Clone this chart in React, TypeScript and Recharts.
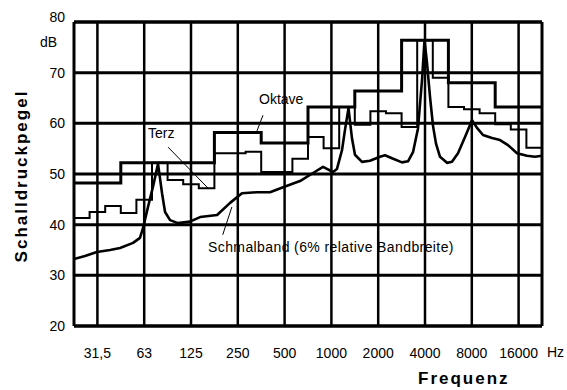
import React from "react";
import { LineChart, Line, XAxis, YAxis, CartesianGrid, ReferenceLine } from "recharts";

const FONT = '"Liberation Sans", Arial, Helvetica, sans-serif';

// log frequency axis, 10 octaves from 22 Hz to 22.6 kHz
const X_MIN = 1000 * Math.pow(2, -5.5);
const X_MAX = 1000 * Math.pow(2, 4.5);

const X_TICKS = [31.25, 62.5, 125, 250, 500, 1000, 2000, 4000, 8000, 16000];
const X_TICK_LABELS = ["31,5", "63", "125", "250", "500", "1000", "2000", "4000", "8000", "16000"];
const Y_TICKS = [20, 30, 40, 50, 60, 70, 80];

// octave bands
const OKTAVE_HZ = [31.5, 63, 125, 250, 500, 1000, 2000, 4000, 8000, 16000];
const OKTAVE_DB = [48.2, 52.2, 52.2, 58.2, 56.1, 63.2, 66.4, 76.4, 68.0, 63.2];

// third-octave bands
const TERZ_HZ = [
  25, 31.5, 40, 50, 63, 80, 100, 125, 160, 200, 250, 315, 400, 500, 630,
  800, 1000, 1250, 1600, 2000, 2500, 3150, 4000, 5000, 6300, 8000, 10000, 12500, 16000, 20000,
];
const TERZ_DB = [
  41.3, 42.5, 43.7, 42.3, 44.9, 52.2, 48.8, 48.0, 47.2, 54.1, 54.1, 54.4, 50.4, 50.4, 53.0,
  57.3, 55.1, 63.2, 59.7, 62.4, 62.0, 59.3, 76.4, 69.0, 63.2, 62.8, 62.0, 59.8, 58.8, 55.2,
];

// narrow band (6% relative bandwidth)
const NB_HZ = [
  22.1, 26, 31, 37.7, 43.7, 53, 58.7, 61.4, 66.1, 71.2, 76.7, 81.4, 85.1, 91.7, 103, 123,
  143, 184, 223, 266, 332, 403, 489, 628, 762, 883, 1024, 1086, 1170, 1223, 1288, 1357,
  1418, 1573, 1771, 2054, 2212, 2453, 2845, 3110, 3349, 3606, 3826, 3971, 4121, 4308, 4504,
  4708, 4996, 5542, 5967, 6521, 7235, 8025, 8640, 9443, 10790, 12150, 13680, 15630, 18110,
  20400, 22600,
];
const NB_DB = [
  33.2, 33.8, 34.6, 35.0, 35.4, 36.4, 37.4, 39.3, 43.5, 47.5, 52.0, 46.2, 42.5, 40.9, 40.3, 40.6,
  41.5, 41.9, 44.3, 46.2, 46.4, 46.4, 47.4, 48.6, 50.2, 51.4, 50.4, 51.0, 54.7, 58.7, 63.0, 57.0,
  53.8, 52.4, 52.6, 53.4, 53.7, 53.1, 52.3, 52.5, 54.3, 59.0, 68.5, 76.4, 71.9, 65.2, 59.5,
  56.0, 53.4, 52.2, 52.4, 54.1, 57.3, 60.6, 59.1, 57.7, 57.1, 56.7, 55.7, 54.1, 53.6,
  53.4, 53.6,
];

// band edges (base-2 bands, 1000 Hz as reference)
const octEdge = (j: number) => 1000 * Math.pow(2, j - 5.5);
const terzEdge = (i: number) => 1000 * Math.pow(2, (i - 16) / 3 - 1 / 6);

const stepData = (levels: number[], edge: (i: number) => number) => [
  ...levels.map((v, i) => ({ f: edge(i), v })),
  { f: edge(levels.length), v: levels[levels.length - 1] },
];

const oktaveData = stepData(OKTAVE_DB, octEdge);
const terzData = stepData(TERZ_DB, terzEdge);
const nbData = NB_HZ.map((f, i) => ({ f, v: NB_DB[i] }));

const tickLabel = (v: number) => {
  const i = X_TICKS.findIndex((t) => Math.abs(t - v) < 0.01);
  return i >= 0 ? X_TICK_LABELS[i] : "";
};

// y labels; the top one sits a little above its line
const YTick = (props: any) => {
  const { x, y, payload } = props;
  const lift = payload.value === 80 ? -5 : 0;
  return (
    <text x={x} y={y + lift} dy="0.355em" textAnchor="end" fill="#000" fontSize={14} fontFamily={FONT}>
      {payload.value}
    </text>
  );
};

const pointer = { stroke: "#000", strokeWidth: 1, ifOverflow: "visible" as const };

export default function App() {
  return (
    <div style={{ position: "absolute", left: 0, top: 0, width: 567, height: 390, background: "#fff" }}>
      <LineChart
        width={567}
        height={390}
        margin={{ top: 22, right: 25, bottom: 34, left: 0 }}
      >
        <CartesianGrid vertical={false} stroke="#000" strokeWidth={3} />
        <XAxis
          dataKey="f"
          type="number"
          scale="log"
          domain={[X_MIN, X_MAX]}
          allowDataOverflow
          ticks={X_TICKS}
          interval={0}
          tickFormatter={tickLabel}
          tickLine={false}
          tickSize={0}
          tickMargin={22}
          height={30}
          axisLine={{ stroke: "#000", strokeWidth: 3 }}
          tick={{ fill: "#000", fontSize: 14, fontFamily: FONT }}
        />
        <YAxis
          type="number"
          domain={[20, 80]}
          ticks={Y_TICKS}
          interval={0}
          width={74}
          tickLine={false}
          tickSize={0}
          tickMargin={9}
          axisLine={{ stroke: "#000", strokeWidth: 3 }}
          tick={<YTick />}
        />
        {X_TICKS.map((t) => (
          <ReferenceLine key={t} x={t} stroke="#000" strokeWidth={2.5} />
        ))}
        <ReferenceLine x={X_MAX} stroke="#000" strokeWidth={3} ifOverflow="visible" />
        <ReferenceLine y={80} stroke="#000" strokeWidth={3} />

        {/* label pointers */}
        <ReferenceLine segment={[{ x: 363, y: 61.6 }, { x: 332, y: 58.5 }]} {...pointer} />
        <ReferenceLine segment={[{ x: 89, y: 55.3 }, { x: 161, y: 47.2 }]} {...pointer} />
        <ReferenceLine segment={[{ x: 200, y: 38.0 }, { x: 229, y: 43.5 }]} {...pointer} />

        <Line data={nbData} dataKey="v" type="linear" stroke="#000" strokeWidth={2.6}
          dot={false} isAnimationActive={false} strokeLinejoin="round" />
        <Line data={terzData} dataKey="v" type="stepAfter" stroke="#000" strokeWidth={2}
          dot={false} isAnimationActive={false} />
        <Line data={oktaveData} dataKey="v" type="stepAfter" stroke="#000" strokeWidth={3}
          dot={false} isAnimationActive={false} />
      </LineChart>

      <svg
        width={567}
        height={390}
        style={{ position: "absolute", left: 0, top: 0, pointerEvents: "none" }}
        fontFamily={FONT}
      >
        <text x={57} y={47} fontSize={14} textAnchor="end">dB</text>
        <text x={547} y={357} fontSize={14}>Hz</text>
        <text x={259} y={104} fontSize={14}>Oktave</text>
        <text x={148} y={138} fontSize={14}>Terz</text>
        <text x={208} y={252} fontSize={14} letterSpacing={0.4}>
          Schmalband (6% relative Bandbreite)
        </text>
        <text x={418} y={384} fontSize={17} fontWeight="bold" letterSpacing={2}>Frequenz</text>
        <text
          transform="translate(27,176) rotate(-90)"
          fontSize={17}
          fontWeight="bold"
          letterSpacing={2}
          textAnchor="middle"
        >
          Schalldruckpegel
        </text>
      </svg>
    </div>
  );
}
